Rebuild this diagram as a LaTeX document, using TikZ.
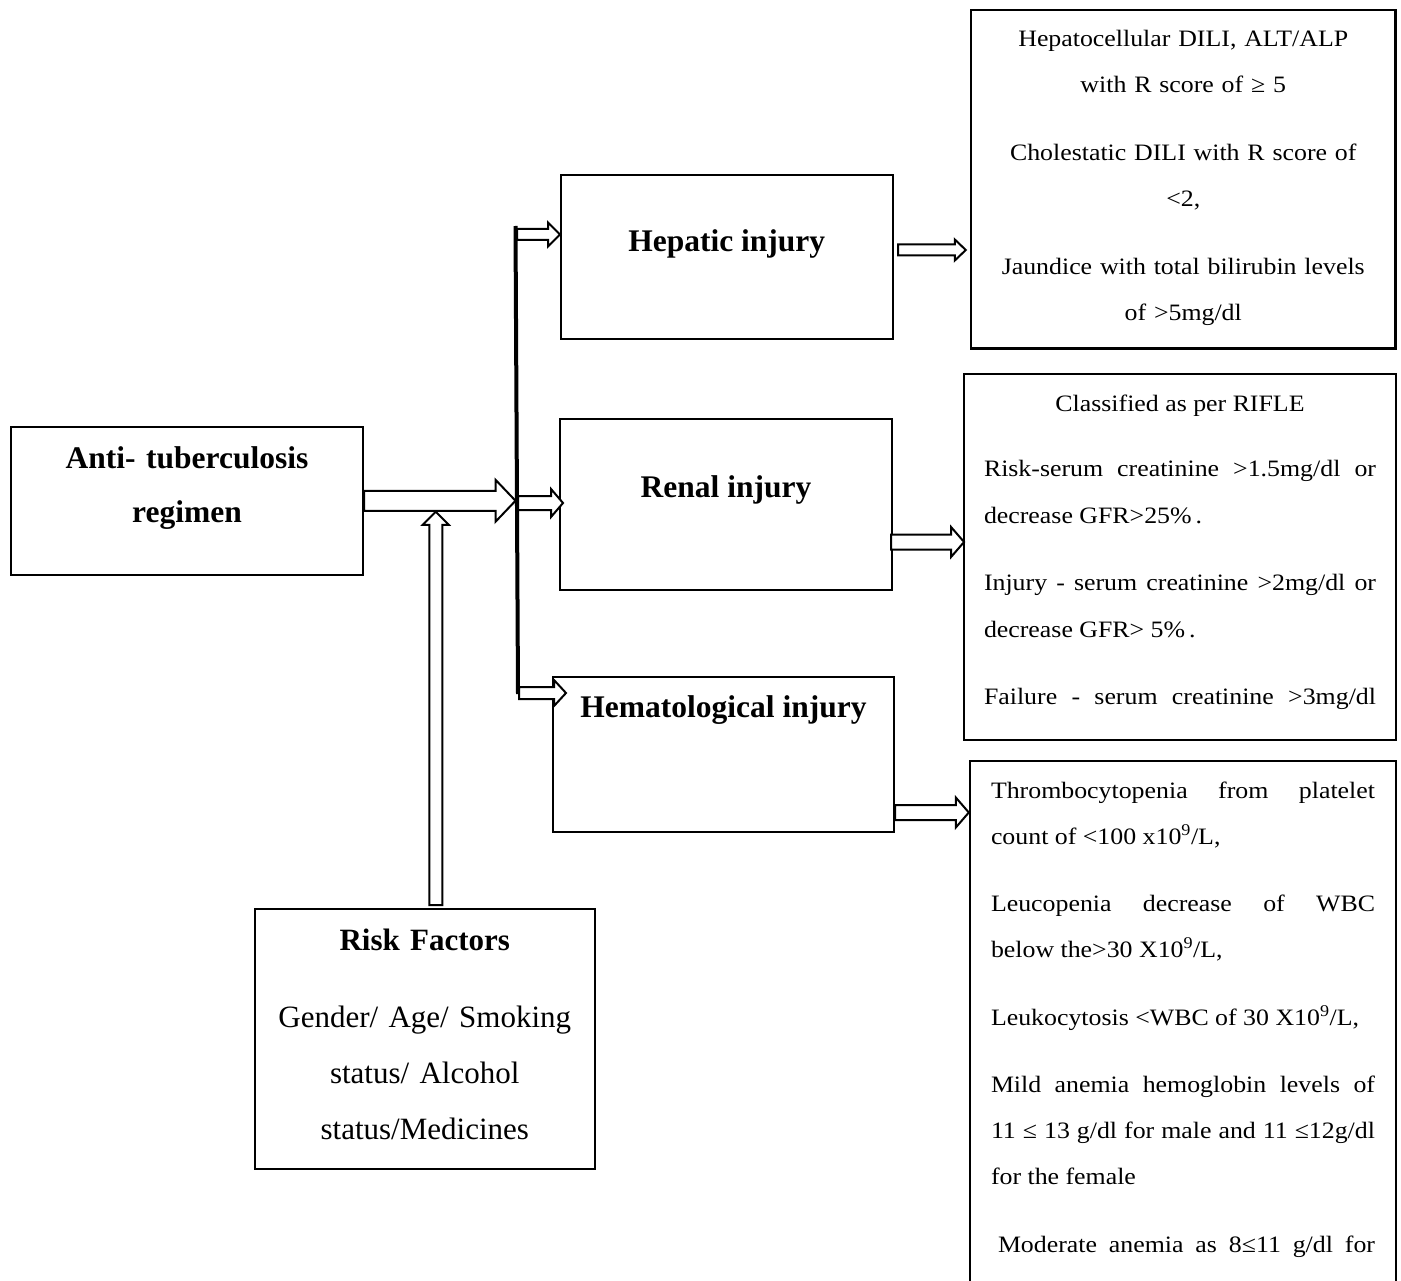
\documentclass[tikz,border=0pt]{standalone}
\usepackage{fontspec}
\setmainfont{Liberation Serif}
\newfontfamily\critfont[FakeStretch=1.1]{Liberation Serif}
\usetikzlibrary{calc}
\hyphenpenalty=10000
\exhyphenpenalty=10000

\begin{document}
\begin{tikzpicture}[x=1pt,y=-1pt,
	injbox/.style={draw, line width=2pt, anchor=north, inner sep=0pt, align=center, font=\bfseries\fontsize{31.5}{38}\selectfont},
	critbox/.style={draw, line width=2.4pt, anchor=north, inner sep=0pt, font=\critfont\fontsize{23.5}{47}\selectfont},
	hollow/.style n args={3}{draw, fill=white, line width=2pt, to path={($(\tikztostart)!#1!90:(\tikztotarget)$) -- ($(\tikztotarget)!#3!(\tikztostart)!#1!90:(\tikztotarget)$) -- ($(\tikztotarget)!#3!(\tikztostart)!#2!90:(\tikztotarget)$) -- (\tikztotarget) -- ($(\tikztotarget)!#3!(\tikztostart)!#2!-90:(\tikztotarget)$) -- ($(\tikztotarget)!#3!(\tikztostart)!#1!-90:(\tikztotarget)$) -- ($(\tikztostart)!#1!-90:(\tikztotarget)$) -- cycle}}]
	\useasboundingbox (0,0) rectangle (1401,1281);
	\clip (0,0) rectangle (1401,1281);

	% left column
	\node[injbox, minimum width=352pt, text width=330pt, text height=41.5pt, text depth=107pt, font=\bfseries\fontsize{31.5}{54}\selectfont] (tb) at (187,425.5) {Anti- tuberculosis\\ regimen};
	\node[injbox, minimum width=339.5pt, text width=330pt, text height=41pt, text depth=219pt, font=\fontsize{31}{56}\selectfont] (rf) at (424.75,908) {\textbf{Risk Factors}\\[21pt] Gender/ Age/ Smoking\\ status/ Alcohol\\ status/Medicines};

	% injuries
	\node[injbox, minimum width=331.5pt, text height=77pt, text depth=87pt] (hepatic) at (726.75,174) {Hepatic injury};
	\node[injbox, minimum width=332pt, text height=78pt, text depth=93pt] (renal) at (726,418) {Renal injury};
	\node[injbox, minimum width=341pt, text height=40pt, text depth=115pt] (hemat) at (723.5,676) {Hematological injury};

	% criteria
	\node[critbox, minimum width=424.5pt, text width=410pt, align=center, text height=36pt, text depth=302.5pt, font=\critfont\fontsize{23.5}{46}\selectfont] (crit1) at (1183.25,9) {Hepatocellular DILI, ALT/ALP\\ with R score of ≥ 5\\[22pt] Cholestatic DILI with R score of\\ <2,\\[22pt] Jaundice with total bilirubin levels\\ of >5mg/dl};
	\node[critbox, minimum width=431.5pt, text width=392pt, align=justify, text height=37pt, text depth=328.5pt] (crit2) at (1180,373) {\tolerance=10000
		{\centering Classified as per RIFLE\par}\vspace{18pt}
		Risk-serum creatinine >1.5mg/dl or\linebreak decrease GFR>25\%\,.\par\vspace{20pt}
		Injury - serum creatinine >2mg/dl or\linebreak decrease GFR> 5\%\,.\par\vspace{20pt}
		{\parfillskip=0pt Failure - serum creatinine >3mg/dl\par}};
	\node[critbox, minimum width=426pt, text width=384pt, align=justify, text height=37pt, text depth=600pt, font=\critfont\fontsize{23.5}{46}\selectfont] (crit3) at (1183,760) {\tolerance=10000
		Thrombocytopenia from platelet\linebreak count of <100 x10\textsuperscript{9}/L,\par\vspace{21.5pt}
		Leucopenia decrease of WBC\linebreak below the>30 X10\textsuperscript{9}/L,\par\vspace{21.5pt}
		Leukocytosis <WBC of 30 X10\textsuperscript{9}/L,\par\vspace{21.5pt}
		Mild anemia hemoglobin levels of\linebreak 11 ≤ 13 g/dl for male and 11 ≤12g/dl\linebreak for the female\par\vspace{21.5pt}
		{\parfillskip=0pt\hspace*{7pt}Moderate anemia as 8≤11 g/dl for\par}};

	% branching line
	\coordinate (jtop) at (515.5,226);
	\coordinate (jbot) at (518,694);
	\coordinate (bhep) at (517,234.5);
	\coordinate (bren) at (518,503);
	\coordinate (bhem) at (519,693);
	\draw[line width=4pt] (jtop) -- (jbot);

	% block arrows
	\draw[hollow={10pt}{21pt}{20pt}] (tb.east) to (tb.east -| jtop);
	\draw[hollow={6.5pt}{13pt}{13pt}] ($(rf.north)+(11,-3)$) to ($(rf.north |- tb.east)+(11,11)$);
	\draw[hollow={5.5pt}{12pt}{12pt}] (bhep) to (bhep -| hepatic.west);
	\draw[hollow={7pt}{14pt}{12pt}] (bren) to ($(bren -| renal.west)+(4,0)$);
	\draw[hollow={6pt}{13pt}{12pt}] (bhem) to ($(bhem -| hemat.west)+(14,0)$);
	\draw[hollow={5.5pt}{10.5pt}{11pt}] ($(hepatic.east)+(4.5,-7)$) to ($(hepatic.east -| crit1.west)+(-4,-7)$);
	\draw[hollow={7.5pt}{15pt}{13pt}] ($(renal.east)+(-2,37.5)$) to ($(renal.east -| crit2.west)+(1,37.5)$);
	\draw[hollow={7.5pt}{15pt}{13pt}] ($(hemat.east)+(0,58)$) to ($(hemat.east -| crit3.west)+(0,58)$);
\end{tikzpicture}
\end{document}
